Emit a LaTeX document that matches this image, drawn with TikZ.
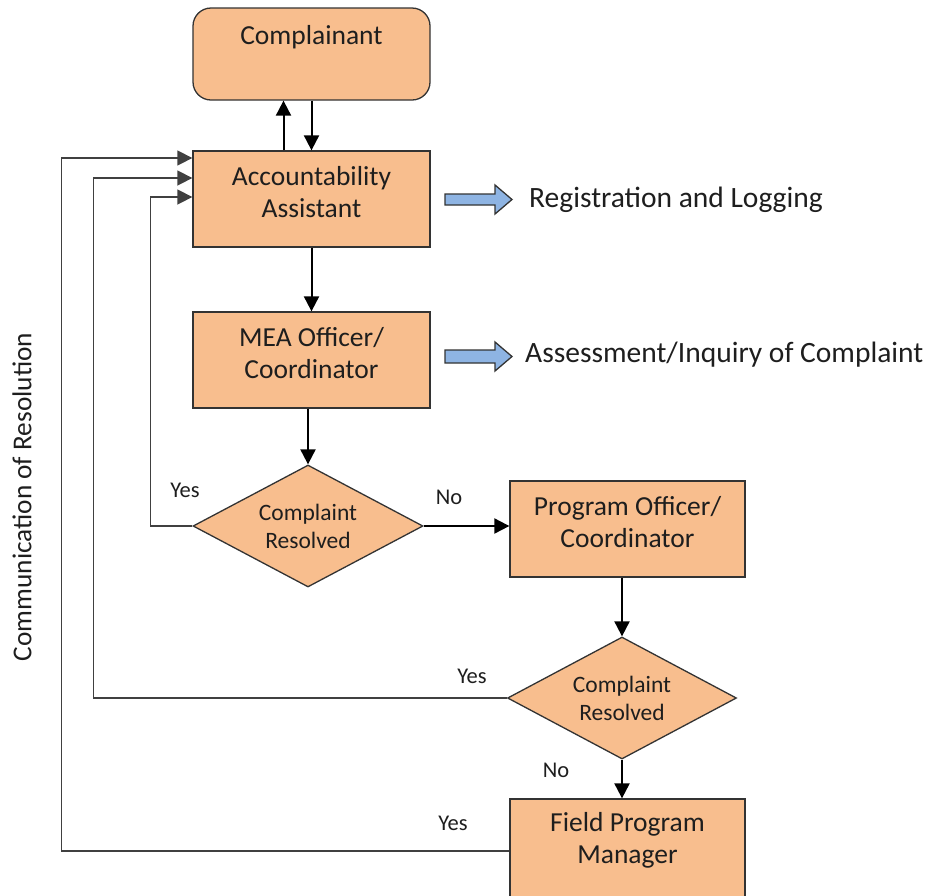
\documentclass[tikz,border=0pt]{standalone}
\usepackage{fontspec}
\setmainfont{Carlito}
\usetikzlibrary{shapes.geometric,arrows.meta,calc}
\definecolor{boxfill}{RGB}{248,190,142}
\definecolor{arrowblue}{RGB}{142,180,227}
\definecolor{txt}{RGB}{30,30,30}
\begin{document}
\begin{tikzpicture}[x=1pt,y=-1pt,
  box/.style={draw=black!80, line width=1.3pt, fill=boxfill, minimum width=237pt, minimum height=96pt,
    align=center, font=\fontsize{27.5}{32}\selectfont, text=txt, inner sep=0pt, text depth=14pt},
  dec/.style={diamond, draw=black!80, line width=1.3pt, fill=boxfill, minimum width=230pt, minimum height=122pt,
    aspect=1.885, align=center, inner sep=0pt, text=txt, font=\fontsize{23.5}{28}\selectfont},
  arr/.style={line width=2pt, -{Triangle[width=15pt,length=15pt]}},
  loopline/.style={line width=1.5pt, draw=black!75, -{Triangle[width=15pt,length=15pt]}},
  lbl/.style={font=\fontsize{22.5}{26}\selectfont, text=txt},
  side/.style={font=\fontsize{29.5}{34}\selectfont, anchor=west, inner sep=0pt, text=txt},
  blk/.style={draw=black!80, line width=1.3pt, fill=arrowblue}]
\clip (0,0) rectangle (933,895);
% nodes
\node[box, rounded corners=18pt, minimum height=92pt] (comp) at (311.5,54) {};
\node[font=\fontsize{27.5}{32}\selectfont, text=txt] (comptxt) at (311.5,37) {Complainant};
\node[box] (aa) at (311.5,199) {Accountability\\Assistant};
\node[box] (mea) at (311.5,360) {MEA Officer/\\Coordinator};
\node[dec] (d1) at (308,526) {Complaint\\Resolved};
\node[box, minimum width=235pt] (po) at (627.5,529) {Program Officer/\\Coordinator};
\node[dec, minimum width=229pt] (d2) at (622,698) {Complaint\\Resolved};
\node[box, minimum width=235pt, minimum height=106pt, text depth=28pt] (fpm) at (627.5,852) {Field Program\\Manager};
% connectors
\draw[arr] ($(aa.north)+(-28,0)$) -- ($(comp.south)+(-28,0)$);
\draw[arr] (comp.south) -- (aa.north);
\draw[arr] (aa.south) -- (mea.north);
\draw[arr] (d1.north |- mea.south) -- (d1.north);
\draw[arr] (d1.east) -- (po.west |- d1.east);
\draw[arr] (d2.north |- po.south) -- (d2.north);
\draw[arr] (d2.south) -- (d2.south |- fpm.north);
\draw[loopline] (d1.west) -- ++(-42,0) |- ($(aa.west)+(0,-2)$);
\draw[loopline] (d2.west) -- ++(-413.5,0) |- ($(aa.west)+(0,-21)$);
\draw[loopline] ($(fpm.west)+(0,-1)$) -- ++(-448,0) |- ($(aa.west)+(0,-41)$);
% labels
\node[lbl] (y1) at (185,490) {Yes};
\node[lbl] (n1) at (449,497) {No};
\node[lbl] (y2) at (472,676) {Yes};
\node[lbl] (n2) at (556,770) {No};
\node[lbl] (y3) at (453,823) {Yes};
\node[font=\fontsize{27.3}{30}\selectfont, text=txt, rotate=90] (comm) at (22,497) {Communication of Resolution};
% block arrows
\draw[blk] (445,194) -- (495,194) -- (495,185) -- (512,199.5) -- (495,214) -- (495,205) -- (445,205) -- cycle;
\draw[blk] (445,350) -- (495,350) -- (495,342) -- (512,356.5) -- (495,371) -- (495,363) -- (445,363) -- cycle;
\node[side] (reg) at (529,200) {Registration and Logging};
\node[side] (ass) at (525,355) {Assessment/Inquiry of Complaint};
\end{tikzpicture}
\end{document}
